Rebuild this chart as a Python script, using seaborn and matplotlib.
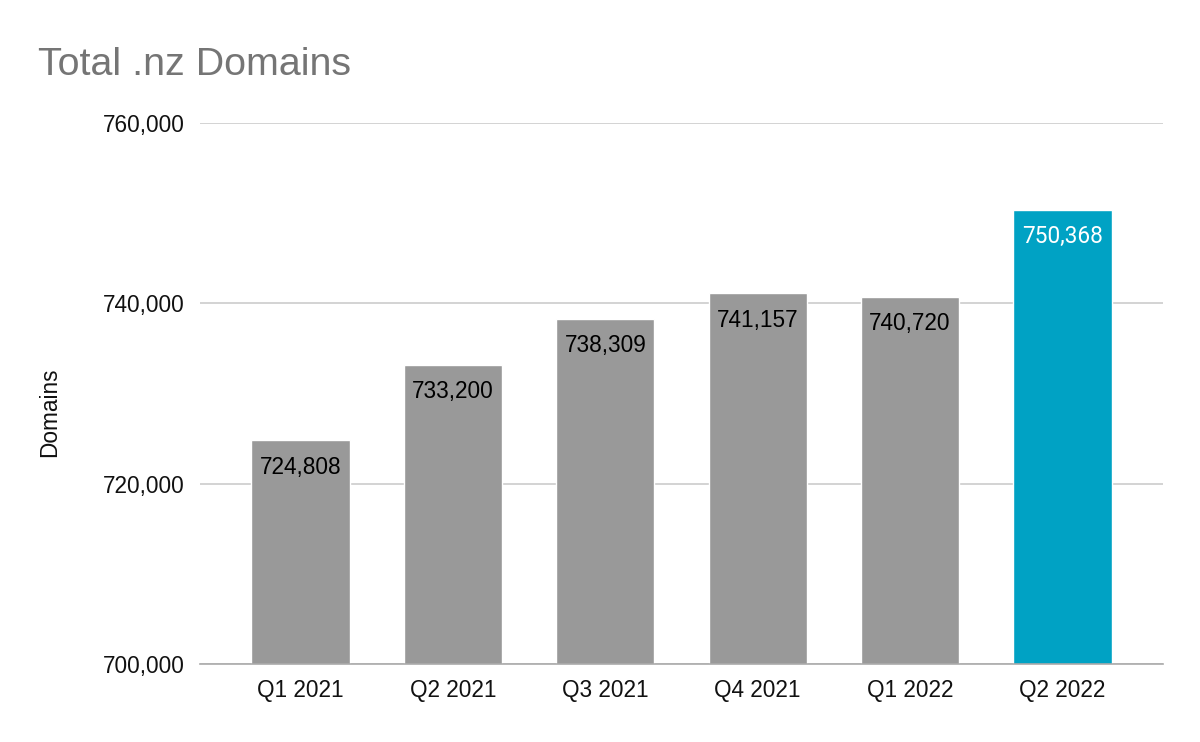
import pandas as pd
import numpy as np
import matplotlib.pyplot as plt
import seaborn as sns
from matplotlib.ticker import FuncFormatter

# Datos
quarters = ['Q1 2021', 'Q2 2021', 'Q3 2021', 'Q4 2021', 'Q1 2022', 'Q2 2022']
domains = [724808, 733200, 738309, 741157, 740720, 750368]
bar_colors = ['#999999', '#999999', '#999999', '#999999', '#999999', '#00a2c4']
label_colors = ['black', 'black', 'black', 'black', 'black', 'white']

df = pd.DataFrame({'Quarter': quarters, 'Domains': domains})

sns.set_style('white')
plt.rcParams['font.family'] = ['Liberation Sans', 'DejaVu Sans']

fig = plt.figure(figsize=(12, 7.42), dpi=100)
ax = fig.add_axes([0.1667, 0.1051, 0.8025, 0.7291])

sns.barplot(data=df, x='Quarter', y='Domains', hue='Quarter',
            palette=bar_colors, width=0.645, legend=False, ax=ax, saturation=1)

ax.set_ylim(700000, 760000)
ax.set_xlim(-0.66, 5.66)
ax.set_yticks([700000, 720000, 740000, 760000])
ax.yaxis.set_major_formatter(FuncFormatter(lambda v, p: f'{int(v):,}'))
ax.grid(axis='y', color='#cccccc', linewidth=1.2)
ax.set_axisbelow(True)
for s in ['top', 'right', 'left']:
    ax.spines[s].set_visible(False)
ax.spines['bottom'].set_color('#aaaaaa')
ax.spines['bottom'].set_linewidth(1.2)
ax.tick_params(axis='both', length=0, labelsize=16.3, colors='#111111')
ax.tick_params(axis='x', pad=11)
ax.tick_params(axis='y', pad=11)

# Etiquetas dentro de las barras
for i, v in enumerate(domains):
    fam = ['Roboto', 'DejaVu Sans'] if label_colors[i] == 'white' else ['Liberation Sans', 'DejaVu Sans']
    ax.annotate(f'{v:,}', xy=(i, v), xytext=(0, -19.5), textcoords='offset points',
                ha='center', va='center', fontsize=16.3, color=label_colors[i],
                family=fam)

ax.set_xlabel('')
ax.set_ylabel('')
fig.text(0.0417, 0.4447, 'Domains', fontsize=16.3, color='#111111',
         rotation=90, ha='center', va='center')
fig.text(0.032, 0.899, 'Total .nz Domains', fontsize=28.4, color='#757575',
         ha='left', va='baseline')

fig.savefig('out.png', dpi=100)
